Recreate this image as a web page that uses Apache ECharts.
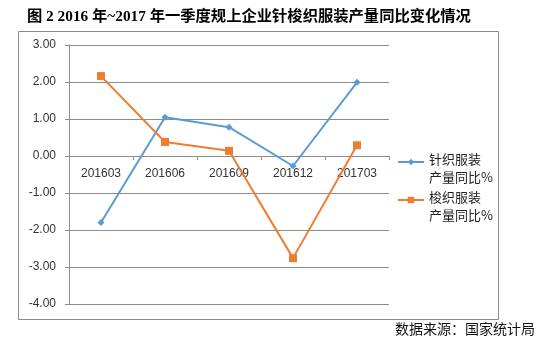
<!DOCTYPE html>
<html>
<head>
<meta charset="utf-8">
<script src="https://cdn.jsdelivr.net/npm/echarts@6/dist/echarts.min.js"></script>
<style>
  html, body { margin: 0; padding: 0; background: #fff; }
  #chart { width: 544px; height: 348px; }
</style>
</head>
<body>
<div id="chart"></div>
<script>
// Quarterly periods on the x axis
const categories = ['201603', '201606', '201609', '201612', '201703'];
// Year-on-year output change, percent
const knitValues = [-1.80, 1.05, 0.78, -0.27, 1.99];
const wovenValues = [2.16, 0.38, 0.14, -2.76, 0.29];
const seriesNames = ['针织服装产量同比%', '梭织服装产量同比%'];

const yMin = -4;
const yMax = 3;

const gridColor = '#8c8c8c';
const labelColor = '#333';

const grid = { left: 69, right: 155, top: 45, bottom: 44 };
const chartHeight = 348;

// the category axis sits on the zero line of the value axis
const plotHeight = chartHeight - grid.top - grid.bottom;
const zeroOffset = -plotHeight * (0 - yMin) / (yMax - yMin);

const chart = echarts.init(document.getElementById('chart'));

chart.setOption({
  backgroundColor: '#fff',
  animation: false,
  title: {
    text: '图 2 2016 年~2017 年一季度规上企业针梭织服装产量同比变化情况',
    left: 27,
    top: 9,
    padding: 0,
    textStyle: {
      fontFamily: '"Liberation Serif", "Noto Sans CJK SC", serif',
      fontWeight: 'bold',
      fontSize: 15.3,
      color: '#000'
    }
  },
  legend: [0, 1].map(function (i) {
    return {
      data: [seriesNames[i]],
      orient: 'vertical',
      left: 397,
      top: 143 + i * 38,
      padding: 0,
      itemWidth: 26,
      itemHeight: 8,
      // two-line label, first line level with the icon
      formatter: function (name) {
        return '{s| }\n{t|' + name.slice(0, 4) + '}\n{t|' + name.slice(4) + '}';
      },
      textStyle: {
        fontFamily: '"Noto Sans CJK SC", sans-serif',
        fontSize: 13,
        color: '#222',
        rich: {
          s: { lineHeight: 12, fontSize: 2 },
          t: {
            fontFamily: '"Noto Sans CJK SC", sans-serif',
            fontSize: 13,
            lineHeight: 18,
            color: '#222'
          }
        }
      }
    };
  }),
  grid: grid,
  xAxis: {
    type: 'category',
    data: categories,
    boundaryGap: true,
    offset: zeroOffset,
    axisLine: { onZero: false, lineStyle: { color: gridColor, width: 1 } },
    axisTick: { show: true, length: 4, lineStyle: { color: gridColor } },
    axisLabel: {
      color: labelColor,
      fontFamily: 'Arial, "Liberation Sans", sans-serif',
      fontSize: 12,
      margin: 12
    }
  },
  yAxis: {
    type: 'value',
    min: yMin,
    max: yMax,
    interval: 1,
    axisLine: { show: true, lineStyle: { color: gridColor, width: 1 } },
    axisTick: { show: true, length: 4, lineStyle: { color: gridColor } },
    splitLine: { show: true, lineStyle: { color: gridColor, width: 1 } },
    axisLabel: {
      color: labelColor,
      fontFamily: 'Arial, "Liberation Sans", sans-serif',
      fontSize: 12,
      margin: 13,
      formatter: function (v) { return v.toFixed(2); }
    }
  },
  series: [
    {
      name: seriesNames[0],
      type: 'line',
      data: knitValues,
      symbol: 'diamond',
      symbolSize: 7,
      lineStyle: { color: '#5b9bd5', width: 2 },
      itemStyle: { color: '#5b9bd5' }
    },
    {
      name: seriesNames[1],
      type: 'line',
      data: wovenValues,
      symbol: 'rect',
      symbolSize: 8,
      lineStyle: { color: '#ed7d31', width: 2 },
      itemStyle: { color: '#ed7d31' }
    }
  ],
  graphic: [
    {
      type: 'rect',
      shape: { x: 18.5, y: 31.5, width: 480, height: 288 },
      style: { fill: 'none', stroke: '#8a8a8a', lineWidth: 1 },
      silent: true
    },
    {
      type: 'text',
      left: 395,
      top: 322,
      style: {
        text: '数据来源：国家统计局',
        font: '14px "Noto Sans CJK SC", sans-serif',
        fill: '#111'
      }
    }
  ]
});
</script>
</body>
</html>
